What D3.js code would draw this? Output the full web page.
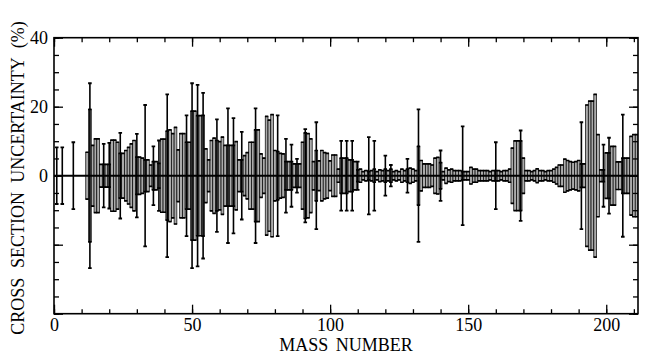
<!DOCTYPE html>
<html>
<head>
<meta charset="utf-8">
<script src="https://cdn.jsdelivr.net/npm/d3@7"></script>
<style>
  body { margin: 0; background: #fff; }
  svg { display: block; }
  text { font-family: "Liberation Serif", "Times New Roman", serif; }
</style>
</head>
<body>
<div id="chart"></div>
<script>

// grey box half-heights (%), one per mass number starting at A = 1
var boxHalf = [
  0, 0, 0, 0, 0, 0, 0, 0, 0, 0,
  0, 6.8, 19.2, 8.8, 10.7, 10.7, 3.3, 3.3, 3.3, 3.3,
  10.3, 10.3, 9.7, 6.5, 6.5, 7.3, 8.2, 9.2, 10.2, 5.4,
  5.4, 5.1, 4.6, 4.6, 3.1, 4.1, 4.1, 3.6, 10.6, 10.6,
  12.9, 13.3, 12.2, 14.0, 7.5, 12.2, 12.2, 9.7, 9.7, 18.7,
  18.7, 17.4, 17.4, 17.5, 7.8, 4.6, 10.2, 10.9, 10.2, 9.9,
  11.2, 8.8, 8.8, 8.8, 8.8, 9.9, 4.6, 4.6, 5.8, 6.7,
  9.7, 9.7, 13.3, 13.3, 6.3, 5.1, 17.2, 16.1, 17.7, 7.3,
  7.0, 6.5, 6.3, 4.1, 4.1, 4.1, 3.4, 3.4, 3.4, 9.7,
  12.4, 12.2, 10.7, 4.1, 7.3, 4.3, 7.3, 6.7, 6.5, 4.3,
  6.0, 6.0, 1.9, 5.1, 5.1, 5.1, 4.6, 4.6, 4.1, 1.7,
  1.9, 1.2, 1.5, 1.2, 1.5, 1.9, 1.2, 1.7, 1.5, 1.9,
  1.5, 1.9, 1.2, 1.5, 1.2, 1.9, 1.5, 1.9, 2.2, 1.9,
  1.5, 8.5, 4.4, 3.4, 3.4, 3.4, 3.1, 5.1, 5.3, 3.8,
  1.2, 2.2, 1.7, 1.9, 1.5, 1.5, 1.5, 1.2, 1.2, 1.2,
  2.4, 1.9, 1.9, 1.5, 1.5, 1.5, 1.5, 1.2, 1.5, 1.5,
  1.5, 1.2, 1.5, 1.5, 1.9, 8.0, 10.1, 10.1, 10.1, 5.1,
  1.5, 1.5, 1.2, 1.5, 2.0, 1.5, 1.5, 1.2, 1.5, 1.5,
  1.9, 2.4, 3.1, 3.1, 4.8, 4.4, 4.1, 3.9, 4.1, 4.4,
  3.4, 3.4, 20.5, 21.6, 21.6, 23.6, 11.9, 1.7, 1.7, 6.6,
  6.6, 8.5, 8.5, 4.0, 4.0, 5.1, 5.1, 5.1, 11.4, 11.9, 11.9
];
var massNumbers = d3.range(1, boxHalf.length + 1);

// long error bars that stick out past their box
var whiskerMass = [1, 3, 7, 13, 18, 20, 24, 30, 33, 36, 38, 41, 48, 50, 52, 54, 59, 63, 65, 68,
  73, 81, 84, 86, 88, 91, 95, 104, 106, 108, 110, 114, 116, 120, 122, 128, 132, 140, 148, 160,
  169, 191, 199, 201, 206];
var whiskerHalf = [8.2, 8.2, 9.7, 26.8, 9.2, 9.5, 12.4, 12.1, 20.5, 8.5, 10.2, 23.6, 17.5, 26.8, 26.3, 24.0, 16.3, 19.5, 16.7, 12.7,
  19.5, 17.5, 10.7, 9.0, 4.9, 13.5, 15.5, 10.1, 10.1, 10.1, 4.1, 11.2, 10.1, 5.8, 3.1, 4.9, 19.2, 7.3, 14.3, 9.7,
  13.1, 15.5, 9.0, 11.0, 17.7];

var xTickLabels = [0, 50, 100, 150, 200];
var yTickLabels = [0, 20, 40];

var width = 654, height = 357;
var plotLeft = 54, plotRight = 638, plotTop = 37.7, plotBottom = 313.7;
var serif = "'Liberation Serif', 'Times New Roman', serif";

var svg = d3.select("#chart").append("svg")
  .attr("width", width)
  .attr("height", height);

var x = d3.scaleLinear().domain([0, 211.5]).range([plotLeft, plotRight]);
var y = d3.scaleLinear().domain([-40, 40]).range([plotBottom, plotTop]);

svg.append("clipPath").attr("id", "plotclip")
  .append("rect")
  .attr("x", plotLeft).attr("y", plotTop)
  .attr("width", plotRight - plotLeft).attr("height", plotBottom - plotTop);

var plot = svg.append("g").attr("clip-path", "url(#plotclip)");

var boxes = massNumbers.map(function(a, i) { return { a: a, v: boxHalf[i] }; })
  .filter(function(d) { return d.v > 0; });

// grey boxes
plot.selectAll(".box")
  .data(boxes)
  .enter().append("rect")
  .attr("class", "box")
  .attr("x", function(d) { return x(d.a - 0.5); })
  .attr("width", function(d) { return x(d.a + 0.5) - x(d.a - 0.5); })
  .attr("y", function(d) { return y(d.v); })
  .attr("height", function(d) { return y(-d.v) - y(d.v); })
  .attr("fill", "#ababab")
  .attr("stroke", "#000")
  .attr("stroke-width", 0.7);

// caps on top and bottom of every box
[1, -1].forEach(function(s) {
  plot.selectAll(".boxcap" + s)
    .data(boxes)
    .enter().append("line")
    .attr("x1", function(d) { return x(d.a - 0.6); })
    .attr("x2", function(d) { return x(d.a + 0.6); })
    .attr("y1", function(d) { return y(s * d.v); })
    .attr("y2", function(d) { return y(s * d.v); })
    .attr("stroke", "#000")
    .attr("stroke-width", 1.7);
});

var whiskers = whiskerMass.map(function(a, i) { return { a: a, e: whiskerHalf[i] }; });

plot.selectAll(".whisker")
  .data(whiskers)
  .enter().append("line")
  .attr("x1", function(d) { return x(d.a); })
  .attr("x2", function(d) { return x(d.a); })
  .attr("y1", function(d) { return y(d.e); })
  .attr("y2", function(d) { return y(-d.e); })
  .attr("stroke", "#000")
  .attr("stroke-width", 1.6);

[1, -1].forEach(function(s) {
  plot.selectAll(".wcap" + s)
    .data(whiskers)
    .enter().append("line")
    .attr("x1", function(d) { return x(d.a - 0.65); })
    .attr("x2", function(d) { return x(d.a + 0.65); })
    .attr("y1", function(d) { return y(s * d.e); })
    .attr("y2", function(d) { return y(s * d.e); })
    .attr("stroke", "#000")
    .attr("stroke-width", 1.8);
});

// zero line
plot.append("line")
  .attr("x1", plotLeft).attr("x2", plotRight)
  .attr("y1", y(0)).attr("y2", y(0))
  .attr("stroke", "#000")
  .attr("stroke-width", 2);

// axes, ticks pointing inward on all four sides
function styleAxis(g) {
  g.attr("font-family", serif).attr("font-size", 18);
  g.select(".domain").remove();
  g.selectAll(".tick line").attr("stroke", "#000").attr("stroke-width", 1.3);
  g.selectAll(".tick text").attr("fill", "#000");
}

svg.append("g")
  .attr("transform", "translate(0," + plotBottom + ")")
  .call(d3.axisBottom(x).tickValues(d3.range(0, 211, 10)).tickSize(-4.5).tickFormat(""))
  .call(styleAxis);
svg.append("g")
  .attr("transform", "translate(0," + plotBottom + ")")
  .call(d3.axisBottom(x).tickValues(xTickLabels).tickSize(-9).tickPadding(4.5).tickFormat(d3.format("d")))
  .call(styleAxis);

svg.append("g")
  .attr("transform", "translate(0," + plotTop + ")")
  .call(d3.axisTop(x).tickValues(d3.range(0, 211, 10)).tickSize(-4.5).tickFormat(""))
  .call(styleAxis);
svg.append("g")
  .attr("transform", "translate(0," + plotTop + ")")
  .call(d3.axisTop(x).tickValues(xTickLabels).tickSize(-9).tickFormat(""))
  .call(styleAxis);

svg.append("g")
  .attr("transform", "translate(" + plotLeft + ",0)")
  .call(d3.axisLeft(y).tickValues(d3.range(-40, 41, 5)).tickSize(-5).tickFormat(""))
  .call(styleAxis);
svg.append("g")
  .attr("transform", "translate(" + plotLeft + ",0)")
  .call(d3.axisLeft(y).tickValues([-40, -20, 0, 20, 40]).tickSize(-9).tickPadding(6)
    .tickFormat(function(d) { return yTickLabels.indexOf(d) >= 0 ? d : ""; }))
  .call(styleAxis);

svg.append("g")
  .attr("transform", "translate(" + plotRight + ",0)")
  .call(d3.axisRight(y).tickValues(d3.range(-40, 41, 5)).tickSize(-5).tickFormat(""))
  .call(styleAxis);
svg.append("g")
  .attr("transform", "translate(" + plotRight + ",0)")
  .call(d3.axisRight(y).tickValues([-40, -20, 0, 20, 40]).tickSize(-9).tickFormat(""))
  .call(styleAxis);

// frame
svg.append("rect")
  .attr("x", plotLeft).attr("y", plotTop)
  .attr("width", plotRight - plotLeft).attr("height", plotBottom - plotTop)
  .attr("fill", "none")
  .attr("stroke", "#000")
  .attr("stroke-width", 1.6);

// axis titles
svg.append("text")
  .attr("x", (plotLeft + plotRight) / 2)
  .attr("y", 351)
  .attr("text-anchor", "middle")
  .style("font-size", "18px")
  .style("word-spacing", "3px")
  .text("MASS NUMBER");

svg.append("text")
  .attr("transform", "translate(24," + 178 + ") rotate(-90)")
  .attr("text-anchor", "middle")
  .style("font-size", "18px")
  .style("word-spacing", "5px")
  .text("CROSS SECTION UNCERTAINTY (%)");

</script>
</body>
</html>
